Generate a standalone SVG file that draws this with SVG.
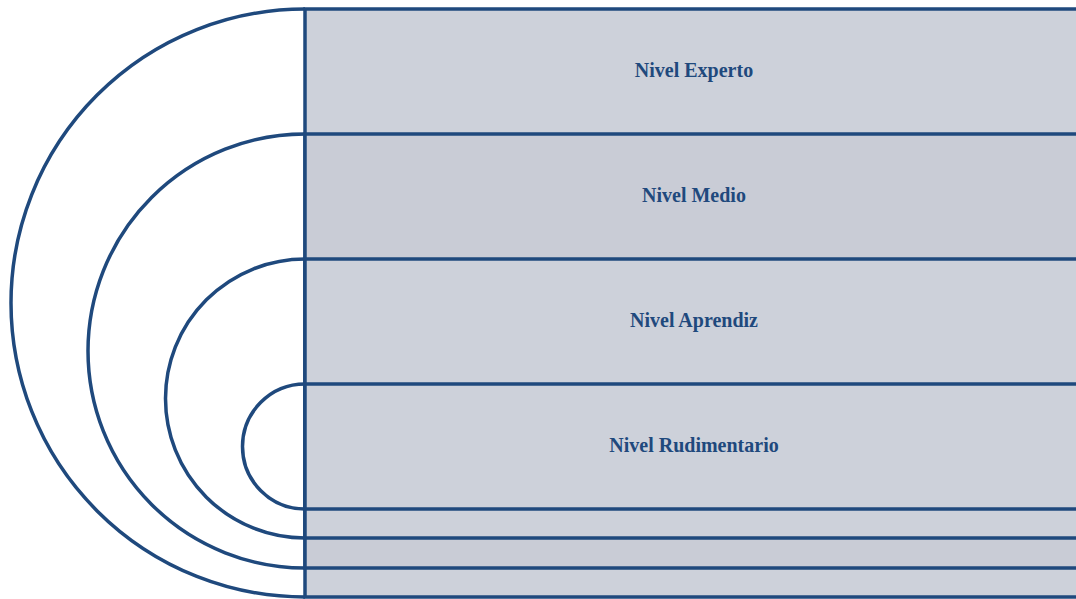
<svg xmlns="http://www.w3.org/2000/svg" width="1076" height="599" viewBox="0 0 1076 599">
<style>
.arc{fill:none;stroke:#1F497D;stroke-width:3.5}
.band{fill:#CDD1DA;stroke:#1F497D;stroke-width:3.5}
.lbl{font-family:"Liberation Serif","Times New Roman",serif;font-weight:bold;font-size:20px;fill:#1F497D;text-anchor:middle}
</style>
<rect width="1076" height="599" fill="#FFFFFF"/>
<g id="connectors">
<path class="arc" d="M305,9 A294,294 0 0 0 305,597"/>
<path class="arc" d="M305,134 A217,217 0 0 0 305,568"/>
<path class="arc" d="M305,259 A139.5,139.5 0 0 0 305,538"/>
<path class="arc" d="M305,384 A62.5,62.5 0 0 0 305,509"/>
</g>
<g id="nivel-experto">
<rect class="band" x="305" y="9" width="780" height="588"/>
<text class="lbl" x="694" y="77">Nivel Experto</text>
</g>
<g id="nivel-medio">
<rect class="band" x="305" y="134" width="780" height="434" style="fill:#C9CCD6"/>
<text class="lbl" x="694" y="202">Nivel Medio</text>
</g>
<g id="nivel-aprendiz">
<rect class="band" x="305" y="259" width="780" height="279"/>
<text class="lbl" x="694" y="327">Nivel Aprendiz</text>
</g>
<g id="nivel-rudimentario">
<rect class="band" x="305" y="384" width="780" height="125"/>
<text class="lbl" x="694" y="452">Nivel Rudimentario</text>
</g>
</svg>
